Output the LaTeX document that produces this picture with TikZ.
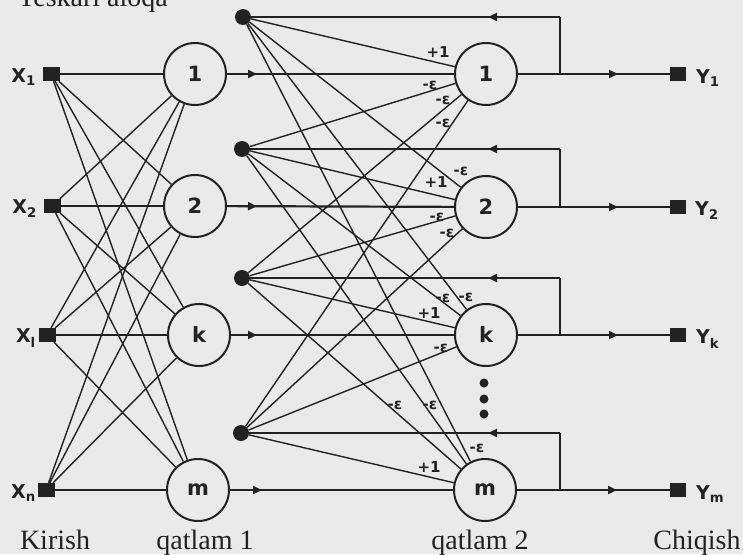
\documentclass[tikz,border=0pt]{standalone}
\usepackage{fontspec}
\setmainfont{Liberation Serif}
\newfontfamily\dvs{DejaVu Sans}
\usetikzlibrary{arrows.meta,decorations.markings}
\definecolor{bg}{RGB}{234,234,234}
\definecolor{ink}{RGB}{34,34,34}
\begin{document}
\begin{tikzpicture}[x=1pt,y=-1pt,
  neuron/.style={circle,draw=ink,line width=2pt,minimum size=62pt,inner sep=0pt,fill=bg,
    font=\dvs\bfseries\fontsize{21}{21}\selectfont,text=ink},
  insq/.style={rectangle,fill=ink,minimum width=17pt,minimum height=14pt,inner sep=0pt},
  outsq/.style={rectangle,fill=ink,minimum width=16pt,minimum height=14pt,inner sep=0pt},
  jdot/.style={circle,fill=ink,minimum size=16pt,inner sep=0pt},
  smdot/.style={circle,fill=ink,minimum size=9pt,inner sep=0pt},
  thinl/.style={draw=ink,line width=1.4pt},
  thickl/.style={draw=ink,line width=2.2pt},
  tipat/.style={postaction={decorate},decoration={markings,
    mark=at position #1 with {\arrow{Triangle[length=9pt,width=8pt]}}}},
  wlab/.style={font=\dvs\bfseries\fontsize{15}{15}\selectfont,text=ink,inner sep=0pt},
  iolab/.style={font=\dvs\bfseries\fontsize{19}{19}\selectfont,text=ink,inner sep=0pt},
  captxt/.style={font=\fontsize{28}{28}\selectfont,text=ink,inner sep=0pt,anchor=base}
]
\path[use as bounding box,fill=bg] (0,0) rectangle (743,554);

% inputs
\node[insq] (x1) at (51,74) {};
\node[insq] (x2) at (52,206) {};
\node[insq] (xl) at (47,335) {};
\node[insq] (xn) at (46,490) {};
\node[iolab,anchor=east] (lx1) at (36,77) {X\textsubscript{1}};
\node[iolab,anchor=east] (lx2) at (37,209) {X\textsubscript{2}};
\node[iolab,anchor=east] (lxl) at (36,338) {X\textsubscript{l}};
\node[iolab,anchor=east] (lxn) at (36,493) {X\textsubscript{n}};

% layer 1
\node[neuron] (a1) at (195,74) {1};
\node[neuron] (a2) at (195,206) {2};
\node[neuron] (ak) at (199,335) {k};
\node[neuron] (am) at (198,490) {m};

% junction dots
\node[jdot] (d1) at (243,17) {};
\node[jdot] (d2) at (242,149) {};
\node[jdot] (dk) at (242,278) {};
\node[jdot] (dm) at (241,433) {};

% layer 2
\node[neuron] (b1) at (486,74) {1};
\node[neuron] (b2) at (486,207) {2};
\node[neuron] (bk) at (486,335) {k};
\node[neuron] (bm) at (485,490) {m};

\node[smdot] (v1) at (484,383) {};
\node[smdot] (v2) at (484,399) {};
\node[smdot] (v3) at (484,414) {};

% outputs
\node[outsq] (y1) at (678,74) {};
\node[outsq] (y2) at (678,207) {};
\node[outsq] (yk) at (678,335) {};
\node[outsq] (ym) at (678,490) {};
\node[iolab,anchor=west] (ly1) at (696,78) {Y\textsubscript{1}};
\node[iolab,anchor=west] (ly2) at (695,211) {Y\textsubscript{2}};
\node[iolab,anchor=west] (lyk) at (696,339) {Y\textsubscript{k}};
\node[iolab,anchor=west] (lym) at (696,494) {Y\textsubscript{m}};

% input -> layer 1
\foreach \i in {x1,x2,xl,xn}{
  \foreach \j in {a1,a2,ak,am}{
    \draw[thinl] (\i) -- (\j);
  }
}

% layer 1 -> layer 2
\draw[thickl,tipat=30pt] (a1) -- (b1);
\draw[thickl,tipat=30pt] (a2) -- (b2);
\draw[thickl,tipat=26pt] (ak) -- (bk);
\draw[thickl,tipat=32pt] (am) -- (bm);

% dots -> layer 2
\foreach \i in {d1,d2,dk,dm}{
  \foreach \j in {b1,b2,bk,bm}{
    \draw[thinl] (\i) -- (\j);
  }
}

% outputs and feedback
\foreach \b/\y/\d/\n in {b1/y1/d1/1,b2/y2/d2/2,bk/yk/dk/k,bm/ym/dm/m}{
  \coordinate (j\n) at (560,0 |- \b);
  \coordinate (t\n) at (560,0 |- \d);
  \draw[thickl,tipat=100pt] (\b) -- (\y);
  \draw[thickl] (j\n) -- (t\n);
  \draw[thickl,tipat=72pt] (t\n) -- (\d);
}

% weight labels
\node[wlab] (w11) at (438,52) {+1};
\node[wlab] (w12) at (430,85) {-ε};
\node[wlab] (w13) at (443,100) {-ε};
\node[wlab] (w14) at (443,123) {-ε};
\node[wlab] (w21) at (461,171) {-ε};
\node[wlab] (w22) at (436,182) {+1};
\node[wlab] (w23) at (437,217) {-ε};
\node[wlab] (w24) at (447,233) {-ε};
\node[wlab] (wk1) at (443,298) {-ε};
\node[wlab] (wk2) at (466,297) {-ε};
\node[wlab] (wk3) at (429,313) {+1};
\node[wlab] (wk4) at (441,348) {-ε};
\node[wlab] (wm1) at (395,405) {-ε};
\node[wlab] (wm2) at (430,405) {-ε};
\node[wlab] (wm3) at (477,448) {-ε};
\node[wlab] (wm4) at (429,467) {+1};

% captions
\node[captxt] (tt) at (93,6) {Teskari aloqa};
\node[captxt] (c1) at (55,549) {Kirish};
\node[captxt] (c2) at (205,549) {qatlam 1};
\node[captxt] (c3) at (480,549) {qatlam 2};
\node[captxt] (c4) at (697,549) {Chiqish};
\end{tikzpicture}
\end{document}
